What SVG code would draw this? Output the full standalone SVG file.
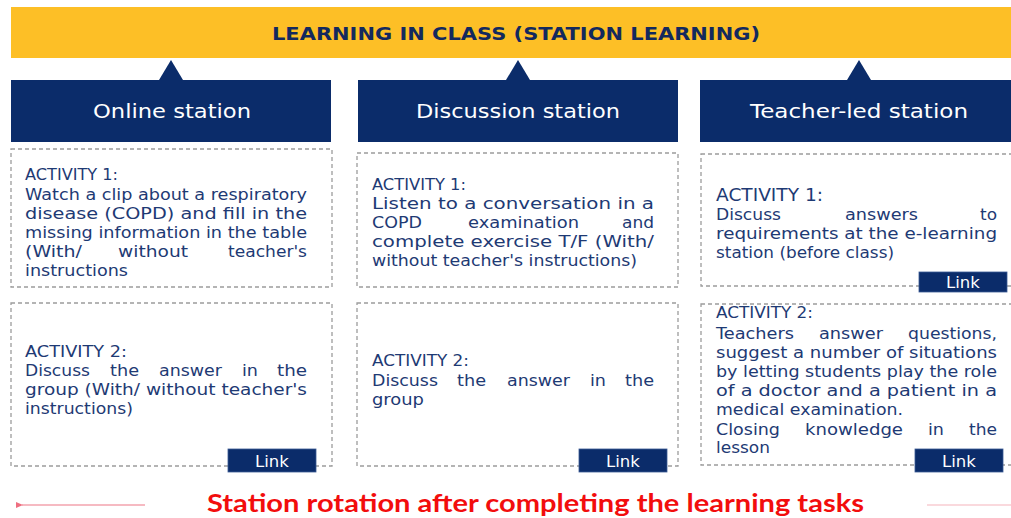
<svg xmlns="http://www.w3.org/2000/svg" width="1011" height="518" viewBox="0 0 1011 518">
  <defs>
    <style>
      .banner { fill: #FDBF26; }
      .title { font-family: "DejaVu Sans", "Liberation Sans", sans-serif; font-weight: bold; font-size: 18px; fill: #13295E; }
      .head { fill: #0B2C6A; }
      .headtxt { font-family: "DejaVu Sans", "Liberation Sans", sans-serif; font-size: 19.5px; fill: #FFFFFF; }
      .card { fill: #FFFFFF; stroke: #9C9C9C; stroke-width: 1.3; stroke-dasharray: 4 3; }
      .body { font-family: "DejaVu Sans", "Liberation Sans", sans-serif; font-size: 15.5px; fill: #1E3A74; }
      .act { font-family: "DejaVu Sans", "Liberation Sans", sans-serif; font-size: 15px; fill: #1E3A74; }
      .actbig { font-family: "DejaVu Sans", "Liberation Sans", sans-serif; font-size: 17.5px; fill: #1E3A74; }
      .linkbox { fill: #0B2C6A; stroke: #3B5A94; stroke-width: 0.8; }
      .linktxt { font-family: "DejaVu Sans", "Liberation Sans", sans-serif; font-size: 16.5px; fill: #FFFFFF; text-anchor: middle; }
      .pointer { fill: #0B2C6A; }
      .rotation { font-family: Lato, "Liberation Sans", sans-serif; font-weight: bold; font-size: 25px; fill: #F20D0D; }
    </style>
    <marker id="arrowLeft" markerWidth="8" markerHeight="8" refX="1" refY="3" orient="auto" markerUnits="userSpaceOnUse">
      <path d="M7,0 L0,3 L7,6 Z" fill="#EE6F80"/>
    </marker>
  </defs>

  <!-- banner -->
  <g id="banner">
    <rect class="banner" x="11" y="7" width="1000" height="51"/>
    <text class="title" x="272" y="40" textLength="488" lengthAdjust="spacingAndGlyphs">LEARNING IN CLASS (STATION LEARNING)</text>
  </g>

  <!-- pointers and rotation arrows -->
  <g id="connectors">
    <polygon class="pointer" points="171,60 159,80 183,80"/>
    <polygon class="pointer" points="518,60 506,80 530,80"/>
    <polygon class="pointer" points="859,60 847,80 871,80"/>
    <line x1="145" y1="505" x2="22" y2="505" stroke="#F3A3AE" stroke-width="1.5" marker-end="url(#arrowLeft)"/>
    <line x1="927" y1="505" x2="1011" y2="505" stroke="#F8CDD2" stroke-width="1.5"/>
  </g>

  <!-- station headers -->
  <g id="online-station">
    <rect class="head" x="11" y="80" width="320" height="62"/>
    <text class="headtxt" x="93" y="118" textLength="158" lengthAdjust="spacingAndGlyphs">Online station</text>
  </g>
  <g id="discussion-station">
    <rect class="head" x="358" y="80" width="320" height="62"/>
    <text class="headtxt" x="416" y="118" textLength="204" lengthAdjust="spacingAndGlyphs">Discussion station</text>
  </g>
  <g id="teacher-led-station">
    <rect class="head" x="700" y="80" width="320" height="62"/>
    <text class="headtxt" x="750" y="118" textLength="218" lengthAdjust="spacingAndGlyphs">Teacher-led station</text>
  </g>

  <!-- online station activities -->
  <g id="online-activity-1">
    <rect class="card" x="11" y="149" width="321" height="138"/>
    <text class="act" x="25" y="180" textLength="93" lengthAdjust="spacingAndGlyphs">ACTIVITY 1:</text>
    <text class="body" x="25" y="200" textLength="282" lengthAdjust="spacingAndGlyphs">Watch a clip about a respiratory</text>
    <text class="body" x="25" y="219" textLength="282" lengthAdjust="spacingAndGlyphs">disease (COPD) and fill in the</text>
    <text class="body" x="25" y="238" textLength="282" lengthAdjust="spacingAndGlyphs">missing information in the table</text>
    <text class="body" y="257"><tspan x="25" textLength="57" lengthAdjust="spacingAndGlyphs">(With/</tspan><tspan x="118" textLength="70" lengthAdjust="spacingAndGlyphs">without</tspan><tspan x="228" textLength="79" lengthAdjust="spacingAndGlyphs">teacher's</tspan></text>
    <text class="body" x="25" y="276" textLength="103" lengthAdjust="spacingAndGlyphs">instructions</text>
  </g>
  <g id="online-activity-2">
    <rect class="card" x="11" y="303" width="321" height="163"/>
    <text class="act" x="25" y="357" textLength="102" lengthAdjust="spacingAndGlyphs">ACTIVITY  2:</text>
    <text class="body" y="376"><tspan x="25" textLength="65" lengthAdjust="spacingAndGlyphs">Discuss</tspan><tspan x="110" textLength="29" lengthAdjust="spacingAndGlyphs">the</tspan><tspan x="159" textLength="63" lengthAdjust="spacingAndGlyphs">answer</tspan><tspan x="242" textLength="16" lengthAdjust="spacingAndGlyphs">in</tspan><tspan x="277" textLength="30" lengthAdjust="spacingAndGlyphs">the</tspan></text>
    <text class="body" x="25" y="395" textLength="282" lengthAdjust="spacingAndGlyphs">group (With/ without teacher's</text>
    <text class="body" x="25" y="414" textLength="108" lengthAdjust="spacingAndGlyphs">instructions)</text>
    <rect class="linkbox" x="228" y="449" width="88" height="23"/>
    <text class="linktxt" x="272" y="467">Link</text>
  </g>

  <!-- discussion station activities -->
  <g id="discussion-activity-1">
    <rect class="card" x="357" y="153" width="321" height="134"/>
    <text class="act" x="372" y="190" textLength="94" lengthAdjust="spacingAndGlyphs">ACTIVITY 1:</text>
    <text class="body" x="372" y="209" textLength="282" lengthAdjust="spacingAndGlyphs">Listen to a conversation in a</text>
    <text class="body" y="228"><tspan x="372" textLength="50" lengthAdjust="spacingAndGlyphs">COPD</tspan><tspan x="468" textLength="111" lengthAdjust="spacingAndGlyphs">examination</tspan><tspan x="622" textLength="32" lengthAdjust="spacingAndGlyphs">and</tspan></text>
    <text class="body" x="372" y="247" textLength="282" lengthAdjust="spacingAndGlyphs">complete exercise T/F (With/</text>
    <text class="body" x="372" y="266" textLength="265" lengthAdjust="spacingAndGlyphs">without teacher's instructions)</text>
  </g>
  <g id="discussion-activity-2">
    <rect class="card" x="357" y="303" width="321" height="163"/>
    <text class="act" x="372" y="366" textLength="97" lengthAdjust="spacingAndGlyphs">ACTIVITY 2:</text>
    <text class="body" y="386"><tspan x="372" textLength="66" lengthAdjust="spacingAndGlyphs">Discuss</tspan><tspan x="457" textLength="29" lengthAdjust="spacingAndGlyphs">the</tspan><tspan x="507" textLength="63" lengthAdjust="spacingAndGlyphs">answer</tspan><tspan x="590" textLength="16" lengthAdjust="spacingAndGlyphs">in</tspan><tspan x="625" textLength="29" lengthAdjust="spacingAndGlyphs">the</tspan></text>
    <text class="body" x="372" y="405" textLength="52" lengthAdjust="spacingAndGlyphs">group</text>
    <rect class="linkbox" x="579" y="449" width="88" height="23"/>
    <text class="linktxt" x="623" y="467">Link</text>
  </g>

  <!-- teacher-led station activities -->
  <g id="teacher-activity-1">
    <rect class="card" x="701" y="154" width="320" height="132"/>
    <text class="actbig" x="716" y="201" textLength="107" lengthAdjust="spacingAndGlyphs">ACTIVITY 1:</text>
    <text class="body" y="220"><tspan x="716" textLength="65" lengthAdjust="spacingAndGlyphs">Discuss</tspan><tspan x="845" textLength="73" lengthAdjust="spacingAndGlyphs">answers</tspan><tspan x="980" textLength="17" lengthAdjust="spacingAndGlyphs">to</tspan></text>
    <text class="body" x="716" y="239" textLength="281" lengthAdjust="spacingAndGlyphs">requirements at the e-learning</text>
    <text class="body" x="716" y="258" textLength="178" lengthAdjust="spacingAndGlyphs">station (before class)</text>
    <rect class="linkbox" x="919" y="272" width="88" height="20"/>
    <text class="linktxt" x="963" y="288">Link</text>
  </g>
  <g id="teacher-activity-2">
    <rect class="card" x="701" y="304" width="320" height="161"/>
    <text class="act" x="716" y="318" textLength="97" lengthAdjust="spacingAndGlyphs">ACTIVITY 2:</text>
    <text class="body" y="339"><tspan x="716" textLength="78" lengthAdjust="spacingAndGlyphs">Teachers</tspan><tspan x="819" textLength="64" lengthAdjust="spacingAndGlyphs">answer</tspan><tspan x="908" textLength="89" lengthAdjust="spacingAndGlyphs">questions,</tspan></text>
    <text class="body" x="716" y="358" textLength="281" lengthAdjust="spacingAndGlyphs">suggest a number of situations</text>
    <text class="body" x="716" y="377" textLength="281" lengthAdjust="spacingAndGlyphs">by letting students play the role</text>
    <text class="body" x="716" y="396" textLength="281" lengthAdjust="spacingAndGlyphs">of a doctor and a patient in a</text>
    <text class="body" x="716" y="415" textLength="187" lengthAdjust="spacingAndGlyphs">medical examination.</text>
    <text class="body" y="435"><tspan x="716" textLength="64" lengthAdjust="spacingAndGlyphs">Closing</tspan><tspan x="805" textLength="98" lengthAdjust="spacingAndGlyphs">knowledge</tspan><tspan x="928" textLength="16" lengthAdjust="spacingAndGlyphs">in</tspan><tspan x="969" textLength="28" lengthAdjust="spacingAndGlyphs">the</tspan></text>
    <text class="body" x="716" y="453" textLength="54" lengthAdjust="spacingAndGlyphs">lesson</text>
    <rect class="linkbox" x="915" y="449" width="88" height="23"/>
    <text class="linktxt" x="959" y="467">Link</text>
  </g>

  <!-- rotation caption -->
  <g id="rotation-caption">
    <text class="rotation" x="207" y="512" textLength="657" lengthAdjust="spacingAndGlyphs">Station rotation after completing the learning tasks</text>
  </g>
</svg>
